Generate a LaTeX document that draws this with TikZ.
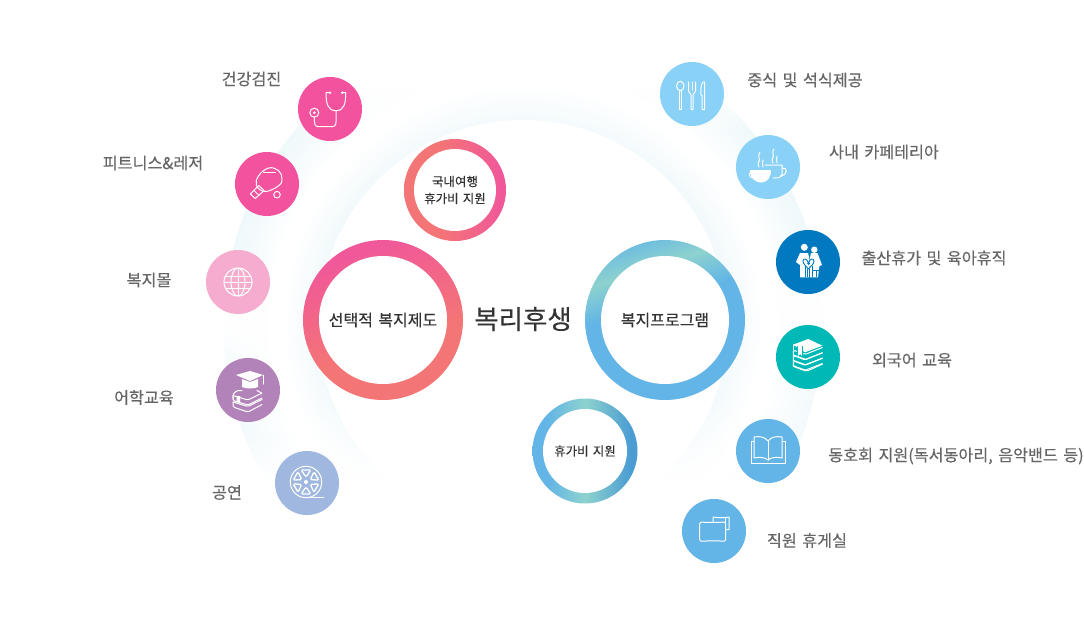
\documentclass[tikz,border=0pt]{standalone}
\usepackage{fontspec}
\setmainfont[FakeBold=0.3,WordSpace=1.5]{Noto Sans CJK KR}
\usetikzlibrary{fadings}
\definecolor{pinka}{HTML}{F2529E}
\definecolor{pinkb}{HTML}{F6ACCE}
\definecolor{rose}{HTML}{F0589A}
\definecolor{salm}{HTML}{F47575}
\definecolor{purp}{HTML}{B283B9}
\definecolor{lav}{HTML}{A0B8E0}
\definecolor{skya}{HTML}{89D1F6}
\definecolor{skyb}{HTML}{62B5E6}
\definecolor{navy}{HTML}{0079C1}
\definecolor{tealb}{HTML}{00B9B7}
\definecolor{mint}{HTML}{8DD2CE}
\definecolor{deep}{HTML}{4A9CD3}
\definecolor{halo}{HTML}{EDF8FB}
\definecolor{ink}{HTML}{666666}
\definecolor{dark}{HTML}{333333}
\pgfdeclareverticalshading{pinkring}{100bp}{color(0bp)=(salm); color(42bp)=(salm); color(73bp)=(rose); color(100bp)=(rose)}
\pgfdeclareverticalshading{bluering}{100bp}{color(0bp)=(skyb); color(56bp)=(skyb); color(67bp)=(mint); color(75bp)=(skyb!70!mint); color(100bp)=(skyb!70!mint)}
\pgfdeclarehorizontalshading{lowring}{100bp}{color(0bp)=(skyb); color(32bp)=(skyb); color(50bp)=(mint); color(72bp)=(deep); color(100bp)=(deep)}
\pgfdeclareradialshading{bandout}{\pgfpointorigin}{color(0bp)=(white); color(21bp)=(white); color(25bp)=(halo); color(25.1bp)=(white); color(50bp)=(white)}
\pgfdeclareradialshading{bandin}{\pgfpointorigin}{color(0bp)=(halo); color(20.5bp)=(halo); color(24bp)=(white); color(50bp)=(white)}
\pgfdeclareverticalshading{outmask}{100bp}{color(0bp)=(pgftransparent!100); color(37bp)=(pgftransparent!100); color(41bp)=(pgftransparent!35); color(46bp)=(pgftransparent!40); color(49.6bp)=(pgftransparent!95); color(52bp)=(pgftransparent!95); color(54.6bp)=(pgftransparent!10); color(66bp)=(pgftransparent!10); color(69.6bp)=(pgftransparent!100); color(100bp)=(pgftransparent!100)}
\pgfdeclareverticalshading{inmask}{100bp}{color(0bp)=(pgftransparent!100); color(34.5bp)=(pgftransparent!100); color(42.5bp)=(pgftransparent!35); color(60bp)=(pgftransparent!25); color(70bp)=(pgftransparent!40); color(100bp)=(pgftransparent!40)}
\pgfdeclarefading{outfade}{\pgfuseshading{outmask}}
\pgfdeclarefading{infade}{\pgfuseshading{inmask}}
\tikzset{
  dot/.style={circle,inner sep=0pt,minimum size=64pt,text=white},
  ring/.style={circle,inner sep=0pt,minimum size=#1},
  hole/.style={circle,fill=white,inner sep=0pt,minimum size=#1,text=dark,align=center,font=\fontsize{16}{18}\selectfont},
  lbl/.style={text=ink,inner sep=0pt,font=\fontsize{16.2}{18}\selectfont},
  ico/.style={draw=white,line width=1pt,line join=round,line cap=round},
}
\begin{document}
\begin{tikzpicture}[x=1pt,y=-1pt]
  \useasboundingbox (0,0) rectangle (1084,640);
  \fill[white] (0,0) rectangle (1084,640);
  \shade[shading=bandout,path fading=outfade] (523,325) circle (300);
  \shade[shading=bandin,path fading=infade] (523,325) circle (250);
  \fill[white] (523,325) circle (205);

  \node[ring=160pt,shading=pinkring,shading angle=20] (selring) at (383,320) {};
  \node[hole=128pt] (selin) at (383,320) {선택적 복지제도};
  \node[ring=160pt,shading=bluering,shading angle=18] (progring) at (665,320) {};
  \node[hole=128pt] (progin) at (665,320) {복지프로그램};
  \node[ring=102pt,shading=pinkring,shading angle=-90] (tourring) at (455,190) {};
  \node[hole=82pt,font=\fontsize{12.5}{17}\selectfont] (tourin) at (455,190) {국내여행\\휴가비 지원};
  \node[ring=105pt,shading=lowring] (payring) at (585,451) {};
  \node[hole=84pt,font=\fontsize{12.5}{17}\selectfont] (payin) at (585,451) {휴가비 지원};
  \node[text=dark,inner sep=0pt,font=\fontsize{26.5}{30}\selectfont] (title) at (523,319) {복리후생};

  \node[dot,fill=pinka] (health) at (330,109) {};
  \node[dot,fill=pinka] (paddle) at (267,184) {};
  \node[dot,fill=pinkb] (mall) at (238,282) {};
  \node[dot,fill=purp] (lang) at (248,390) {};
  \node[dot,fill=lav] (show) at (307,483) {};
  \node[dot,fill=skya] (meal) at (692,94) {};
  \node[dot,fill=skya] (cafe) at (768,167) {};
  \node[dot,fill=navy] (family) at (808,262) {};
  \node[dot,fill=tealb] (langb) at (808,357) {};
  \node[dot,fill=skyb] (club) at (768,451) {};
  \node[dot,fill=skyb] (rest) at (714,531) {};

  \node[lbl] (thealth) at (251.5,79) {건강검진};
  \node[lbl] (tpaddle) at (153,163) {피트니스\&레저};
  \node[lbl] (tmall) at (149,280) {복지몰};
  \node[lbl] (tlang) at (144,397.5) {어학교육};
  \node[lbl] (tshow) at (227,492.5) {공연};
  \node[lbl] (tmeal) at (805,80) {중식 및 석식제공};
  \node[lbl] (tcafe) at (884,152) {사내 카페테리아};
  \node[lbl] (tfamily) at (934,258) {출산휴가 및 육아휴직};
  \node[lbl] (tlangb) at (912,360) {외국어 교육};
  \node[lbl] (tclub) at (956,456) {동호회 지원(독서동아리, 음악밴드 등)};
  \node[lbl] (trest) at (807,540.5) {직원 휴게실};

  \begin{scope}[shift={(health)}]
    \draw[ico] (0,-16.3) -- (-4,-16.3) .. controls (-4,-5) and (-2,1.7) .. (6,1.7) .. controls (14,1.7) and (15.7,-5) .. (15.7,-16.3) -- (12.3,-16.3);
    \fill[white] (0,-16.3) circle (1.4) (12.3,-16.3) circle (1.4);
    \draw[ico] (6,1.7) -- (6,13) .. controls (6,17) and (4,17.7) .. (0,17.7) -- (-11,17.7) .. controls (-15,17.7) and (-15.7,16) .. (-15.7,8.2);
    \draw[ico] (-15.7,3.7) circle (4.5);
    \fill[white] (-15.7,3.7) circle (1.5);
  \end{scope}

  \begin{scope}[shift={(paddle)}]
    \draw[ico] plot[smooth cycle,tension=0.7] coordinates {(-10.5,1.5) (-8.3,-8.3) (1.7,-16) (11.7,-13.3) (15,-5) (11.7,1.7) (-1.7,7.5)};
    \draw[ico] (-16.7,10) -- (-8.3,1.5) -- (-3,6.5) -- (-11.7,14.5) -- cycle;
    \draw[ico] (-13,6.5) -- (-8,11.5);
    \draw[ico] (-3.3,-11.7) -- (8.3,-11.7);
    \draw[ico] (10,10.7) circle (3.3);
  \end{scope}

  \begin{scope}[shift={(mall)}]
    \draw[ico] (0,0) circle (14) (0,0) ellipse (7 and 14);
    \draw[ico] (0,-14) -- (0,14) (-14,0) -- (14,0) (-12.5,-6) -- (12.5,-6) (-12.5,6) -- (12.5,6);
  \end{scope}

  \begin{scope}[shift={(lang)}]
    \fill[white] (-12,-15) -- (2,-19) -- (15,-15) -- (2,-9) -- cycle;
    \fill[white] (-6,-11) -- (2,-8) -- (10,-11) -- (10,-3) .. controls (6,-1) and (-2,-1) .. (-6,-3) -- cycle;
    \draw[ico] (15.5,-15) -- (15.5,-6);
    \draw[ico,rounded corners=1.5pt] (-6,0.5) -- (-11,0.5) -- (-15,4) -- (-15,9);
    \draw[ico,rounded corners=1.5pt] (-15,5.5) -- (0,10) -- (14,3) (-15,5.5) -- (-15,10.5) -- (0,15) -- (14,8);
    \draw[ico] (9,0.5) -- (13.5,3);
    \draw[ico,rounded corners=1.5pt] (-15,11.5) -- (-15,17) -- (0,22) -- (14,14.5) (-15,12) -- (0,16.5) -- (14,9.5);
    \fill[white] (-11.5,6) -- (-8,6) -- (-8,13.5) -- (-9.7,11.5) -- (-11.5,13.5) -- cycle;
  \end{scope}

  \begin{scope}[shift={(show)}]
    \draw[ico] (-1,-1) circle (15.7);
    \draw[ico] (-1,14.7) -- (16.3,14.7);
    \fill[white] (-1,-1) circle (2);
    \foreach \a in {30,90,150,210,270,330}
      \draw[ico,line width=1.3pt,shift={(-1,-1)},rotate=\a,rounded corners=1.2pt] (5,0) -- (12,-4.8) -- (12,4.8) -- cycle;
  \end{scope}

  \begin{scope}[shift={(meal)}]
    \draw[ico] (-11.7,-8) ellipse (3.7 and 4.7);
    \draw[ico] (-12.7,-3.3) -- (-12.7,15.5) -- (-10.7,15.5) -- (-10.7,-3.3);
    \draw[ico] (-3.5,-12) -- (-3.5,-3) .. controls (-3.5,-1) and (-1,-1) .. (-1,1) -- (-1,15.5) -- (1,15.5) -- (1,1) .. controls (1,-1) and (3.5,-1) .. (3.5,-3) -- (3.5,-12);
    \draw[ico] (0,-12) -- (0,-4);
    \draw[ico] (11,-12) .. controls (8,-8) and (9,-2) .. (9,1) -- (10,1.5) -- (10,15.5) -- (12.5,15.5) -- (12.5,-12) -- cycle;
  \end{scope}

  \begin{scope}[shift={(cafe)}]
    \draw[ico] (-3,-2) -- (14,-2) -- (14,7) .. controls (14,11) and (9,11) .. (5,11);
    \draw[ico] (14,1) .. controls (20,0) and (20,8) .. (12.5,9);
    \fill[white] (-18,3) -- (3,3) .. controls (3,11) and (-1,15.5) .. (-7,15.5) .. controls (-13,15.5) and (-18,11) .. (-18,3);
    \draw[ico] (-16,5) .. controls (-20,5) and (-20,11) .. (-14,11);
    \draw[ico] (-9,0) .. controls (-12,-4) and (-7,-6) .. (-9,-9) .. controls (-10,-11) and (-9,-13) .. (-8,-15);
    \draw[ico] (-5,0) .. controls (-7,-3) and (-4,-4) .. (-5,-7);
    \draw[ico] (5,-4) .. controls (2,-8) and (7,-10) .. (5,-13) .. controls (4,-15) and (5,-17) .. (6,-18);
    \draw[ico] (9,-4) .. controls (7,-7) and (10,-8) .. (9,-11);
  \end{scope}

  \begin{scope}[shift={(family)}]
    \fill[white] (-3.7,-14.7) circle (3.5) (6.3,-12.3) circle (3.2);
    \fill[white] (-8,-9) -- (0,-9) -- (1,-5) -- (1,15.3) -- (-8,15.3) -- (-8,3) -- (-9.5,2) -- (-12,0) -- cycle;
    \fill[white] (3,-9) -- (9.5,-9) -- (14,3) -- (11.5,4) -- (11,7) -- (10,15.3) -- (2,15.3) -- (1,0) -- cycle;
    \draw[navy,line width=0.9pt,line join=round] (-5,-1) .. controls (-5,-4) and (-1,-4) .. (0.5,1) .. controls (2,-4) and (6,-4) .. (6,-1) .. controls (6,2) and (3,4) .. (0.5,7) .. controls (-2,4) and (-5,2) .. (-5,-1);
    \draw[navy,line width=0.7pt] (-3,3.5) -- (-3,15.3) (-1,7) -- (-1,15.3) (1.5,7) -- (1.5,15.3) (4,3.5) -- (4,15.3);
    \fill[navy] (0.5,1.5) circle (1.5);
    \draw[navy,line width=0.7pt] (5,8) -- (11,8) (8,8) -- (8,15.3);
  \end{scope}

  \begin{scope}[shift={(langb)}]
    \fill[white] (-15,-12.3) -- (0.3,-18) -- (14.3,-11.3) -- (-3,-4.7) -- cycle;
    \foreach \y in {0,5.4,10.8}
      \draw[ico,rounded corners=1.5pt] (14.3,\y-9.5) -- (-3,\y-2.5) -- (-14.7,\y-7) -- (-14.7,\y-1.8);
    \draw[ico,rounded corners=1.5pt] (-14.7,9) -- (-14.7,9.5) -- (-1.5,14.2) -- (14.3,7.2);
    \draw[ico] (-14.7,-12) -- (-14.7,-7);
    \foreach \y in {0,5.4,10.8}
      \draw[ico] (-14.7,\y-2) -- (-2.5,\y+2.3) -- (14.3,\y-4.2);
    \fill[white] (-10,-11) -- (-6,-11) -- (-6,-1) -- (-8,-3) -- (-10,-1) -- cycle;
    \draw[tealb,line width=0.6pt] (-10.6,-11) -- (-10.6,-1.5) (-5.4,-11) -- (-5.4,-1);
  \end{scope}

  \begin{scope}[shift={(club)}]
    \draw[ico] (0,9) .. controls (-3,6) and (-9,6) .. (-14,7) -- (-14,-14) .. controls (-8,-15) and (-3,-14) .. (0,-10) .. controls (3,-14) and (8,-15) .. (14,-14) -- (14,7) .. controls (9,6) and (3,6) .. (0,9) -- cycle;
    \draw[ico] (0,-10) -- (0,9);
    \draw[ico] (-14,-10) -- (-17,-10) -- (-17,12) -- (17,12) -- (17,-10) -- (14,-10);
  \end{scope}

  \begin{scope}[shift={(rest)}]
    \draw[ico,rounded corners=2pt] (-14.3,-9) .. controls (-5,-8.5) and (4,-8.5) .. (11.7,-9) -- (11.7,10.3) .. controls (4,9.8) and (-5,9.8) .. (-14.3,10.3) -- cycle;
    \draw[ico] (-1,-9) -- (-1,-14) .. controls (5,-13) and (10,-13) .. (15,-14) -- (15,-1.3) -- (11.7,-1.3);
    \draw[ico] (11,-13.5) -- (11,-9);
  \end{scope}
\end{tikzpicture}
\end{document}
